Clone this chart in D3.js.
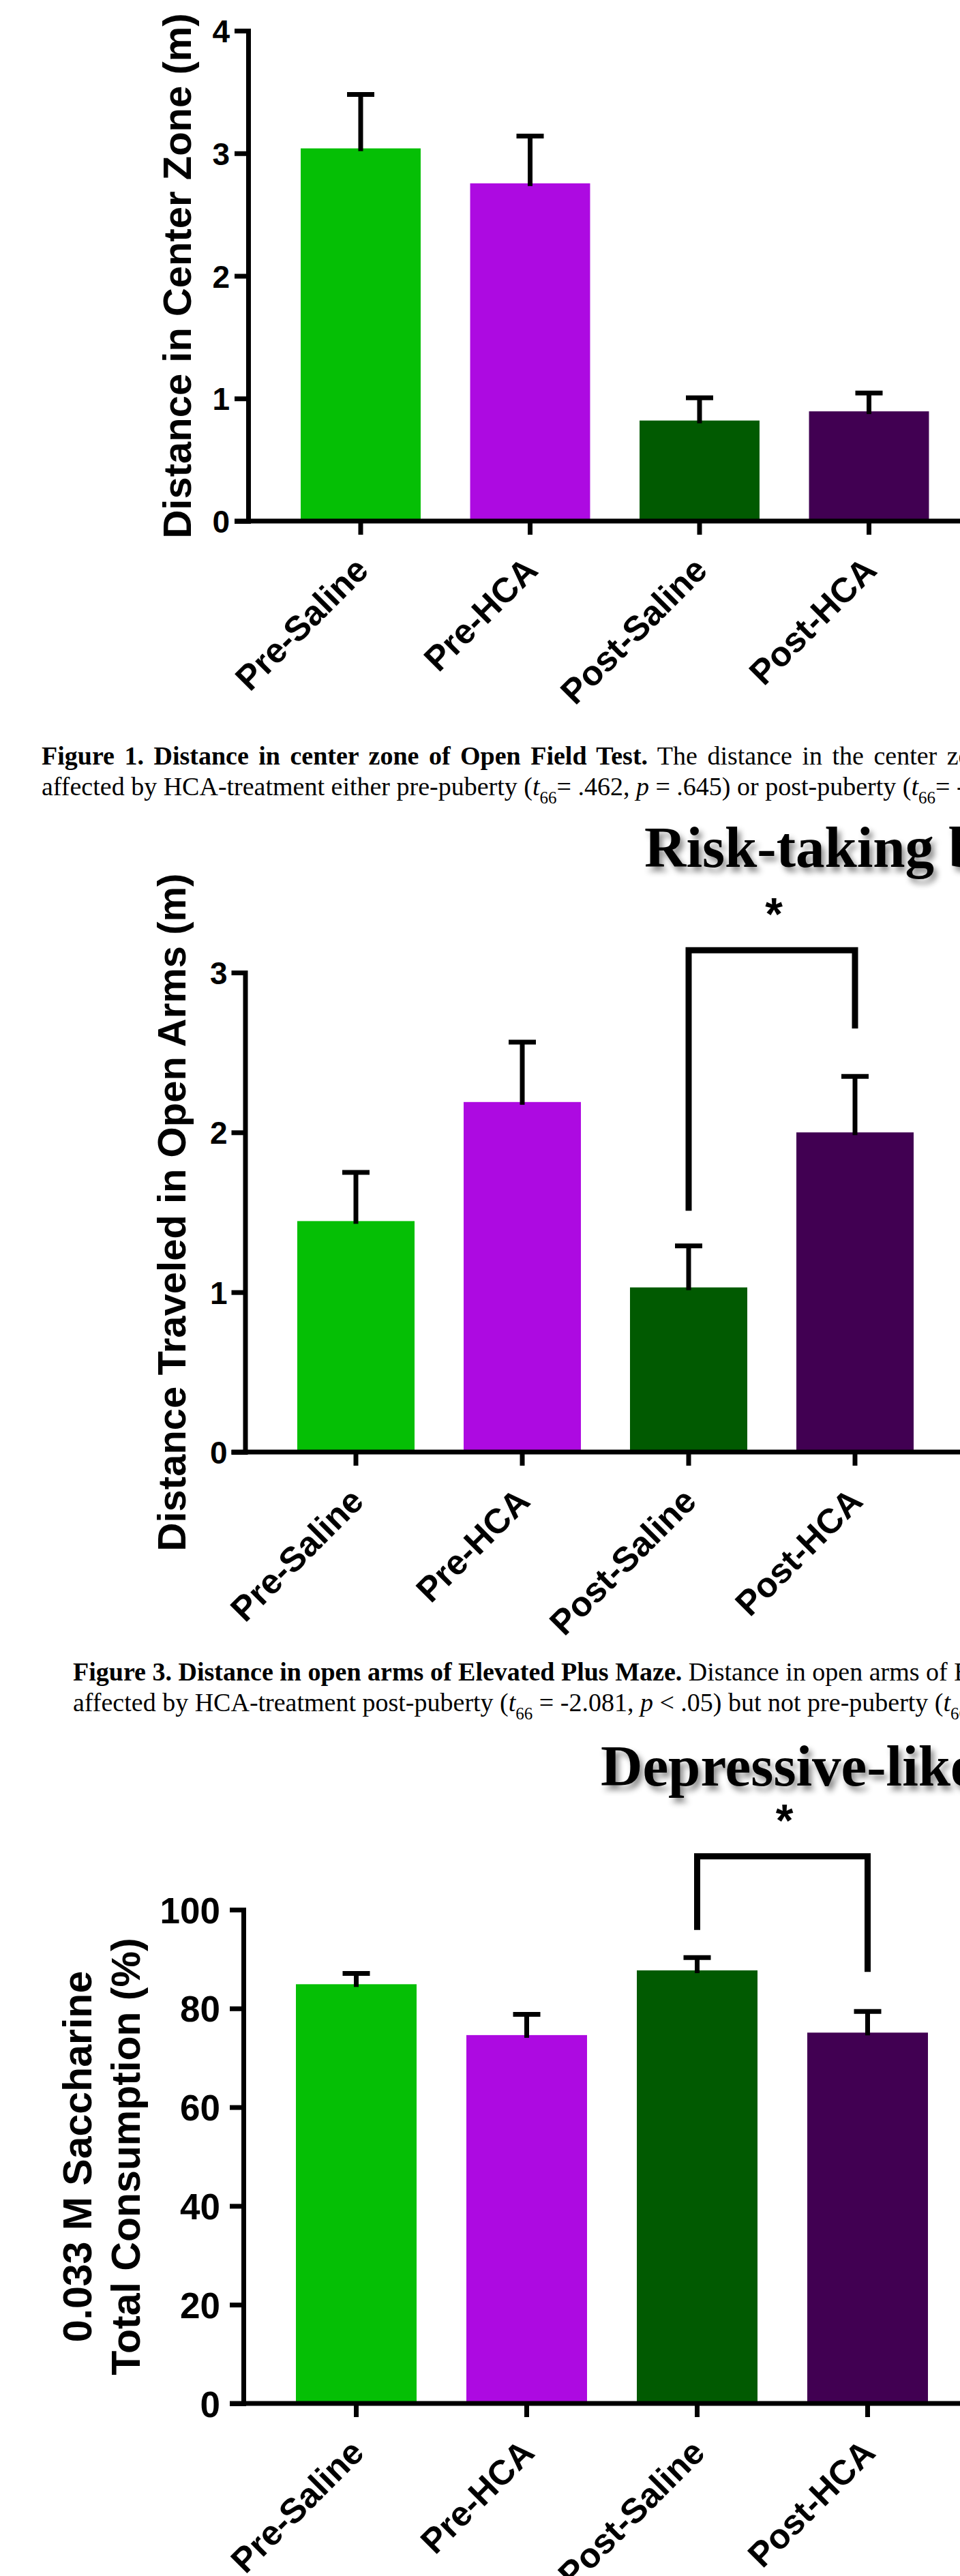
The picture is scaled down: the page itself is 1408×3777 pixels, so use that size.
<!DOCTYPE html>
<html>
<head>
<meta charset="utf-8">
<script src="https://cdn.jsdelivr.net/npm/d3@7"></script>
<style>
  body { margin: 0; background: #fff; }
  svg { display: block; background: #fff; }
  .cap { font-family: "Liberation Serif", "Times New Roman", serif; font-size: 38px; fill: #000; white-space: pre; }
  .ttl { font-family: "Liberation Serif", "Times New Roman", serif; font-weight: bold; font-size: 85px; fill: #000; }
  .chart text { font-family: "Liberation Sans", Arial, sans-serif; font-weight: bold; fill: #000; }
</style>
</head>
<body>
<svg id="fig" width="1408" height="3777"></svg>
<script>
// groups and colours shared by the three panels
const groups = ["Pre-Saline", "Pre-HCA", "Post-Saline", "Post-HCA"];
const barColors = ["#05bf05", "#ad0ae1", "#015a01", "#410052"];

// Open field: distance in center zone (m)
const centerMeans = [3.04, 2.755, 0.82, 0.895];
const centerSem = [0.44, 0.385, 0.185, 0.15];
const centerTicks = [0, 1, 2, 3, 4];

// Elevated plus maze: distance traveled in open arms (m)
const armsMeans = [1.445, 2.19, 1.03, 2.0];
const armsSem = [0.305, 0.375, 0.26, 0.35];
const armsTicks = [0, 1, 2, 3];
const armsSigPair = ["Post-Saline", "Post-HCA"];
const armsSigLevels = [1.51, 3.14, 2.65];   // left leg end, bracket top, right leg end

// Saccharine consumption (%)
const sacchMeans = [84.9, 74.6, 87.7, 75.1];
const sacchSem = [2.2, 4.2, 2.6, 4.3];
const sacchTicks = [0, 20, 40, 60, 80, 100];
const sacchSigPair = ["Post-Saline", "Post-HCA"];
const sacchSigLevels = [95.9, 110.8, 87.4];

const svg = d3.select("#fig");

const defs = svg.append("defs");
defs.append("filter").attr("id", "shadow")
    .attr("x", "-5%").attr("y", "-20%").attr("width", "115%").attr("height", "160%")
  .append("feDropShadow")
    .attr("dx", 5).attr("dy", 7).attr("stdDeviation", 4)
    .attr("flood-color", "#000").attr("flood-opacity", 0.45);

function drawChart(cfg) {
    const g = svg.append("g").attr("class", "chart");

    const x = d3.scaleBand()
        .domain(groups)
        .range([cfg.c0 - cfg.step / 2, cfg.c0 - cfg.step / 2 + groups.length * cfg.step])
        .paddingInner(cfg.pad)
        .paddingOuter(cfg.pad / 2);
    const y = d3.scaleLinear()
        .domain([0, d3.max(cfg.ticks)])
        .range([cfg.yBottom, cfg.yTop]);
    const cx = d => x(d) + x.bandwidth() / 2;

    // bars
    g.selectAll("rect.bar")
        .data(cfg.means)
        .join("rect")
        .attr("class", "bar")
        .attr("x", (d, i) => x(groups[i]))
        .attr("y", d => y(d))
        .attr("width", x.bandwidth())
        .attr("height", d => y(0) - y(d))
        .attr("fill", (d, i) => barColors[i]);

    // error bars (upper only)
    const eb = g.selectAll("g.err")
        .data(cfg.means)
        .join("g")
        .attr("class", "err");
    eb.append("line")
        .attr("x1", (d, i) => cx(groups[i]))
        .attr("x2", (d, i) => cx(groups[i]))
        .attr("y1", d => y(d) + 4)
        .attr("y2", (d, i) => y(d + cfg.sem[i]))
        .attr("stroke", "#000").attr("stroke-width", 7);
    eb.append("line")
        .attr("x1", (d, i) => cx(groups[i]) - 20)
        .attr("x2", (d, i) => cx(groups[i]) + 20)
        .attr("y1", (d, i) => y(d + cfg.sem[i]))
        .attr("y2", (d, i) => y(d + cfg.sem[i]))
        .attr("stroke", "#000").attr("stroke-width", 7);

    // y axis
    const ya = g.append("g")
        .attr("transform", `translate(${cfg.axisX},0)`)
        .call(d3.axisLeft(y).tickValues(cfg.ticks).tickFormat(d3.format("d"))
            .tickSize(20).tickSizeOuter(0).tickPadding(cfg.tickPad));
    ya.select(".domain").attr("stroke", "#000").attr("stroke-width", 7).attr("stroke-linecap", "square");
    ya.selectAll(".tick line").attr("stroke", "#000").attr("stroke-width", 7);
    ya.selectAll(".tick text").attr("font-size", cfg.tickFont).attr("dy", "0.36em");

    // x axis
    const xa = g.append("g")
        .attr("transform", `translate(0,${y(0)})`)
        .call(d3.axisBottom(x).tickSize(20).tickSizeOuter(0));
    xa.select(".domain").remove();
    xa.selectAll(".tick line").attr("stroke", "#000").attr("stroke-width", 7);
    xa.selectAll(".tick text")
        .attr("font-size", cfg.labelFont)
        .attr("text-anchor", "end")
        .attr("x", 0).attr("y", 0).attr("dy", 0)
        .attr("transform", "translate(14,75) rotate(-45)");
    g.append("line")
        .attr("x1", cfg.axisX - 20).attr("x2", 1420)
        .attr("y1", y(0)).attr("y2", y(0))
        .attr("stroke", "#000").attr("stroke-width", 7);

    // y title
    const yt = g.append("text")
        .attr("transform", `translate(${cfg.titleX},${(y(0) + y(d3.max(cfg.ticks))) / 2}) rotate(-90)`)
        .attr("text-anchor", "middle")
        .attr("font-size", cfg.titleFont);
    cfg.title.forEach((line, i) => {
        yt.append("tspan")
            .attr("x", 0)
            .attr("dy", i === 0 ? -(cfg.title.length - 1) * cfg.titleGap : cfg.titleGap)
            .text(line);
    });

    // significance bracket
    if (cfg.sigPair) {
        const xl = cx(cfg.sigPair[0]), xr = cx(cfg.sigPair[1]);
        const [lo, top, ro] = cfg.sigLevels;
        g.append("path")
            .attr("d", d3.line()([[xl, y(lo)], [xl, y(top)], [xr, y(top)], [xr, y(ro)]]))
            .attr("fill", "none")
            .attr("stroke", "#000")
            .attr("stroke-width", 9)
            .attr("stroke-linejoin", "miter");
        g.append("text")
            .attr("x", (xl + xr) / 2 + 3)
            .attr("y", y(top) - 30)
            .attr("text-anchor", "middle")
            .attr("font-size", 66)
            .text("*");
    }
}

function caption(x, y, lines, wordSpacing) {
    const t = svg.append("text").attr("class", "cap").attr("x", x).attr("y", y);
    lines.forEach((parts, li) => {
        let shift = 0;
        parts.forEach((p, pi) => {
            const s = t.append("tspan").text(p.t);
            if (pi === 0) s.attr("x", x).attr("dy", li === 0 ? 0 : 45);
            if (p.b) s.attr("font-weight", "bold");
            if (p.i) s.attr("font-style", "italic");
            if (p.sub) { s.attr("font-size", 25).attr("dy", 12); shift = 12; }
            else if (shift) { s.attr("dy", -shift); shift = 0; }
            if (li === 0 && wordSpacing) s.attr("word-spacing", wordSpacing);
        });
    });
}

drawChart({
    means: centerMeans, sem: centerSem, ticks: centerTicks,
    c0: 529, step: 248.5, pad: 0.292, axisX: 364, yBottom: 764, yTop: 45,
    tickPad: 7, tickFont: 46, labelFont: 51,
    title: ["Distance in Center Zone (m)"], titleX: 280, titleFont: 58, titleGap: 0
});

caption(61, 1121, [
    [{t: "Figure 1. Distance in center zone of Open Field Test.", b: true}, {t: " The distance in the center zon"}],
    [{t: "affected by HCA-treatment either pre-puberty ("}, {t: "t", i: true}, {t: "66", sub: true},
     {t: "= .462, "}, {t: "p", i: true}, {t: " = .645) or post-puberty ("}, {t: "t", i: true},
     {t: "66", sub: true}, {t: "= -"}]
], 5);

svg.append("text").attr("class", "ttl").attr("x", 945).attr("y", 1271)
    .attr("filter", "url(#shadow)").text("Risk-taking b");

drawChart({
    means: armsMeans, sem: armsSem, ticks: armsTicks,
    c0: 522, step: 244, pad: 0.295, axisX: 359.5, yBottom: 2129, yTop: 1426,
    tickPad: 6, tickFont: 46, labelFont: 51,
    title: ["Distance Traveled in Open Arms (m)"], titleX: 272, titleFont: 58, titleGap: 0,
    sigPair: armsSigPair, sigLevels: armsSigLevels
});

caption(107, 2464, [
    [{t: "Figure 3. Distance in open arms of Elevated Plus Maze.", b: true}, {t: " Distance in open arms of E"}],
    [{t: "affected by HCA-treatment post-puberty ("}, {t: "t", i: true}, {t: "66", sub: true},
     {t: " = -2.081, "}, {t: "p", i: true}, {t: " < .05) but not pre-puberty ("}, {t: "t", i: true},
     {t: "66", sub: true}, {t: " ="}]
], 0);

svg.append("text").attr("class", "ttl").attr("x", 881).attr("y", 2618)
    .attr("filter", "url(#shadow)").text("Depressive-like");

drawChart({
    means: sacchMeans, sem: sacchSem, ticks: sacchTicks,
    c0: 522.5, step: 250, pad: 0.292, axisX: 357, yBottom: 3524, yTop: 2800,
    tickPad: 14, tickFont: 53, labelFont: 51,
    title: ["0.033 M Saccharine", "Total Consumption (%)"], titleX: 205, titleFont: 59, titleGap: 71,
    sigPair: sacchSigPair, sigLevels: sacchSigLevels
});
</script>
</body>
</html>
